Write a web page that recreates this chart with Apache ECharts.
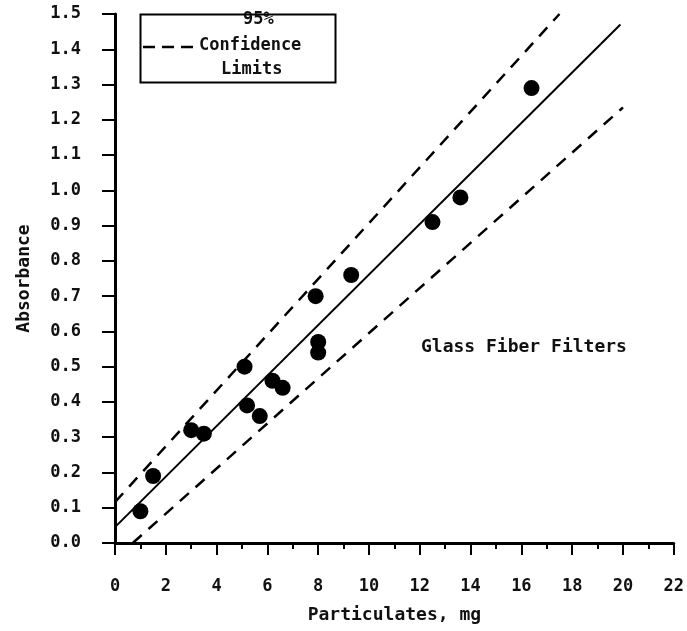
<!DOCTYPE html>
<html>
<head>
<meta charset="utf-8">
<script src="https://cdn.jsdelivr.net/npm/echarts@6/dist/echarts.min.js"></script>
<style>
html,body{margin:0;padding:0;background:#fff;}
#chart{width:687px;height:631px;}
</style>
</head>
<body>
<div id="chart"></div>
<script>
// Data
const particulates = [1.0, 1.5, 3.0, 3.5, 5.1, 5.2, 5.7, 6.2, 6.6, 7.9, 8.0, 8.0, 9.3, 12.5, 13.6, 16.4];
const absorbance   = [0.09, 0.19, 0.32, 0.31, 0.50, 0.39, 0.36, 0.46, 0.44, 0.70, 0.57, 0.54, 0.76, 0.91, 0.98, 1.29];
const fitLine      = [[0, 0.045], [19.9, 1.47]];
const upperLimit   = [[0, 0.116], [17.5, 1.50]];
const lowerLimit   = [[0.7, 0.0], [20.0, 1.235]];
const xTicks = [0, 2, 4, 6, 8, 10, 12, 14, 16, 18, 20, 22];
const yTicks = [0.0, 0.1, 0.2, 0.3, 0.4, 0.5, 0.6, 0.7, 0.8, 0.9, 1.0, 1.1, 1.2, 1.3, 1.4, 1.5];

const FONT = '"DejaVu Sans Mono", monospace';
const points = particulates.map((x, i) => [x, absorbance[i]]);

const chart = echarts.init(document.getElementById('chart'));
chart.setOption({
  animation: false,
  backgroundColor: '#fff',
  grid: { left: 115, right: 12, top: 14, bottom: 88 },
  xAxis: {
    type: 'value',
    min: xTicks[0], max: xTicks[xTicks.length - 1], interval: 2,
    name: 'Particulates, mg',
    nameLocation: 'middle', nameGap: 63,
    nameTextStyle: { fontFamily: FONT, fontSize: 18, fontWeight: 'bold', color: '#111' },
    axisLine: { show: true, onZero: false, lineStyle: { color: '#000', width: 3 } },
    axisTick: { show: true, inside: false, length: 12, lineStyle: { color: '#000', width: 2 } },
    minorTick: { show: true, splitNumber: 2, length: 6, lineStyle: { color: '#000', width: 2 } },
    axisLabel: { margin: 35, fontFamily: FONT, fontSize: 17, fontWeight: 'bold', color: '#111' },
    splitLine: { show: false }
  },
  yAxis: {
    type: 'value',
    min: yTicks[0], max: yTicks[yTicks.length - 1], interval: 0.1,
    name: 'Absorbance',
    nameLocation: 'middle', nameGap: 82,
    nameTextStyle: { fontFamily: FONT, fontSize: 18, fontWeight: 'bold', color: '#111' },
    axisLine: { show: true, onZero: false, lineStyle: { color: '#000', width: 3 } },
    axisTick: { show: true, inside: false, length: 13, lineStyle: { color: '#000', width: 2 } },
    axisLabel: { margin: 34, fontFamily: FONT, fontSize: 17, fontWeight: 'bold', color: '#111',
      formatter: v => v.toFixed(1) },
    splitLine: { show: false }
  },
  series: [
    { type: 'line', data: fitLine, symbol: 'none', lineStyle: { color: '#000', width: 2 }, z: 2 },
    { type: 'line', data: upperLimit, symbol: 'none', lineStyle: { color: '#000', width: 2.5, type: [12, 9] }, z: 2 },
    { type: 'line', data: lowerLimit, symbol: 'none', lineStyle: { color: '#000', width: 2.5, type: [12, 9] }, z: 2 },
    { type: 'scatter', data: points, symbol: 'circle', symbolSize: 16, itemStyle: { color: '#000', opacity: 1 }, z: 3 }
  ],
  graphic: [
    { type: 'rect', left: 138, top: 12, shape: { width: 195, height: 68 },
      style: { fill: 'none', stroke: '#000', lineWidth: 2 } },
    { type: 'text', left: 243, top: 11, style: { text: '95%', font: 'bold 17px ' + FONT, fill: '#111' } },
    { type: 'line', shape: { x1: 143, y1: 47, x2: 200, y2: 47 },
      style: { stroke: '#000', lineWidth: 2.5, lineDash: [12, 7] } },
    { type: 'text', left: 199, top: 37, style: { text: 'Confidence', font: 'bold 17px ' + FONT, fill: '#111' } },
    { type: 'text', left: 221, top: 61, style: { text: 'Limits', font: 'bold 17px ' + FONT, fill: '#111' } },
    { type: 'text', left: 421, top: 338, style: { text: 'Glass Fiber Filters', font: 'bold 18px ' + FONT, fill: '#111' } }
  ]
});
</script>
</body>
</html>
